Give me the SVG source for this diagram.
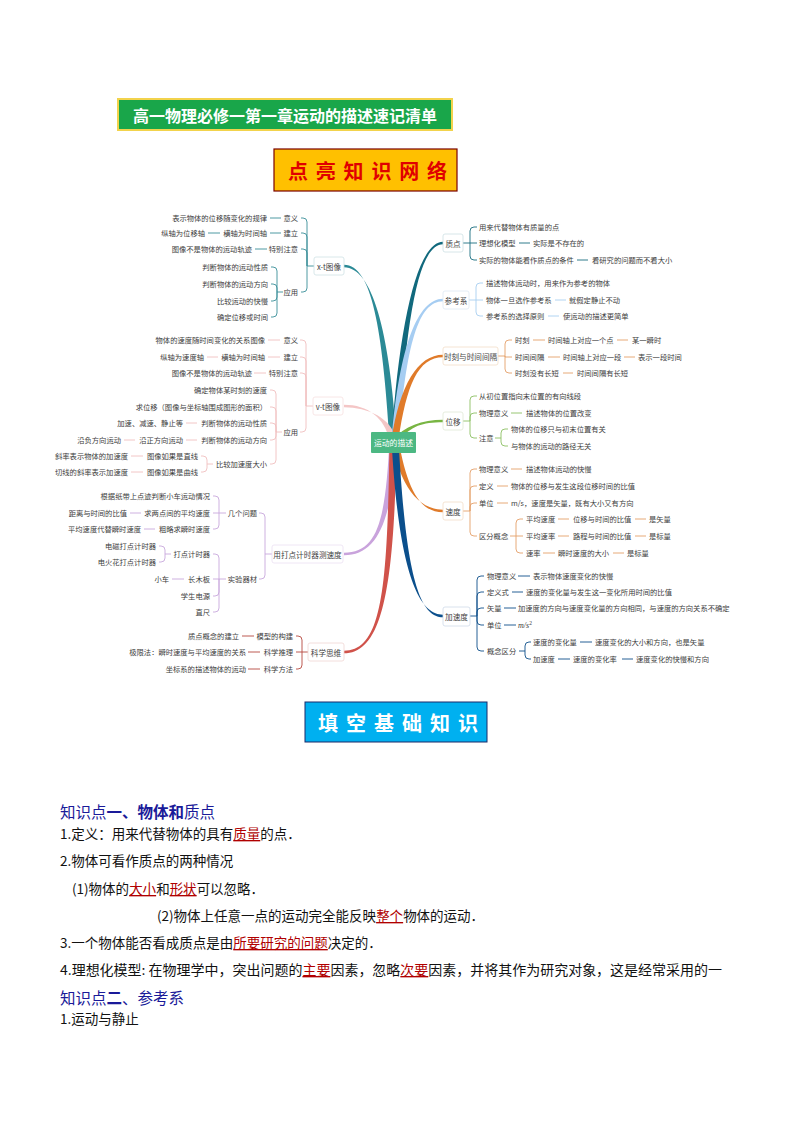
<svg xmlns="http://www.w3.org/2000/svg" width="794" height="1123" viewBox="0 0 794 1123">
<style>
.t{font-family:"Noto Sans CJK SC","Noto Sans",sans-serif;font-size:7.3px;fill:#3c3c3c;dominant-baseline:central}
.e{text-anchor:end}
.lb{font-family:"Noto Sans CJK SC","Noto Sans",sans-serif;font-size:7.6px;fill:#444;text-anchor:middle;dominant-baseline:central}
.bx{fill:#fff;stroke-width:0.8}
.c{fill:none;stroke-width:0.9}
.p{font-family:"Noto Sans CJK SC","Noto Sans",sans-serif;font-size:13.5px;fill:#111}
.h{font-family:"Noto Sans CJK SC","Noto Sans",sans-serif;font-size:15.5px;fill:#1a1a99}
.r{fill:#b00000;text-decoration:underline}
</style>
<rect width="794" height="1123" fill="#fff"/>

<g id="title">
<rect x="118" y="99" width="334" height="31" fill="#19a64a" stroke="#f2d34c" stroke-width="2"/>
<text x="285" y="115" font-family="'Noto Sans CJK SC',sans-serif" font-size="16" font-weight="bold" fill="#fff" text-anchor="middle" dominant-baseline="central">高一物理必修一第一章运动的描述速记清单</text>
</g>
<g id="header1">
<rect x="274" y="149" width="183" height="42" fill="#ffc000" stroke="#7a0000" stroke-width="1.2"/>
<text x="288" y="170" font-family="'Noto Sans CJK SC',sans-serif" font-size="20" font-weight="bold" fill="#e00000" letter-spacing="7.8" dominant-baseline="central">点亮知识网络</text>
</g>

<g id="connectors">
<g id="main-branches">
<path fill="#2b8a96" d="M389.5,440 C382.5,330 372,264.7 344,264.7 L344,267.3 C372,267.3 389.5,330 396.5,440 Z"/>
<path fill="#f4c6c6" d="M389.5,440 C384.5,418 368,404.7 344,404.7 L344,407.3 C368,407.3 391.5,418 396.5,440 Z"/>
<path fill="#c9a3dc" d="M389.5,440 C385.5,520 378,552.7 344,552.7 L344,555.3 C378,555.3 392.5,520 396.5,440 Z"/>
<path fill="#d0524a" d="M389.5,440 C387.5,590 382,650.7 344,650.7 L344,653.3 C382,653.3 394.5,590 396.5,440 Z"/>
<path fill="#11697d" d="M391.5,440 C399.5,320 418,241.7 443,241.7 L443,244.3 C418,244.3 406.5,320 398.5,440 Z"/>
<path fill="#a6cdf2" d="M391.5,440 C399.5,345 418,298.7 443,298.7 L443,301.3 C418,301.3 406.5,345 398.5,440 Z"/>
<path fill="#e07b2a" d="M391.5,440 C399.5,385 418,354.7 443,354.7 L443,357.3 C418,357.3 406.5,385 398.5,440 Z"/>
<path fill="#78b543" d="M392.5,440 C404.5,426 422,419.7 443,419.7 L443,422.3 C422,422.3 411.5,426 399.5,440 Z"/>
<path fill="#e07b2a" d="M391.5,440 C399.5,485 418,509.7 443,509.7 L443,512.3 C418,512.3 406.5,485 398.5,440 Z"/>
<path fill="#0b4f8c" d="M391.5,440 C398.5,570 418,614.7 443,614.7 L443,617.3 C418,617.3 405.5,570 398.5,440 Z"/>
</g>
<g id="xt-lines" class="c" stroke="#3a8f98">
<path d="M314,266 H307 M307,266 V222 Q307,218 303,218 H301 M307,266 V237 Q307,233 303,233 H301 M307,266 V253 Q307,249 303,249 H301 M307,266 V288 Q307,292 303,292 H301"/>
<path d="M283,292 H277 M277,292 V271 Q277,267 273,267 H271 M277,292 V288 Q277,284 273,284 H271 M277,292 V297 Q277,301 273,301 H271 M277,292 V313 Q277,317 273,317 H271"/>
<path d="M270,218 H281 M270,233 H281 M208,233 H220 M255,249 H267"/>
</g>
<g id="vt-lines" class="c" stroke="#f0c0c0">
<path d="M313,406 H306 M306,406 V344 Q306,340 302,340 H300 M306,406 V361 Q306,357 302,357 H300 M306,406 V377 Q306,373 302,373 H300 M306,406 V428 Q306,432 302,432 H300"/>
<path d="M282,432 H276 M276,432 V394 Q276,390 272,390 H270 M276,432 V411 Q276,407 272,407 H270 M276,432 V427 Q276,423 272,423 H270 M276,432 V436 Q276,440 272,440 H270 M276,432 V460 Q276,464 272,464 H270"/>
<path d="M213,464 H207 M207,464 V460 Q207,456 203,456 H201 M207,464 V468 Q207,472 203,472 H201"/>
<path d="M268,340 H280 M268,357 H280 M207,357 H218 M254,373 H266 M186,423 H197 M186,440 H197 M124,440 H135 M131,456 H143 M131,472 H143"/>
</g>
<g id="dd-lines" class="c" stroke="#c8a8dc">
<path d="M272,554 H265 M265,554 V517 Q265,513 261,513 H259 M265,554 V575 Q265,579 261,579 H259"/>
<path d="M226,513 H219 M219,513 V500 Q219,496 215,496 H213 M219,513 H213 M219,513 V525 Q219,529 215,529 H213"/>
<path d="M226,579 H219 M219,579 V558 Q219,554 215,554 H213 M219,579 H213 M219,579 V592 Q219,596 215,596 H213 M219,579 V608 Q219,612 215,612 H213"/>
<path d="M171,554 H165 M165,554 V550 Q165,546 161,546 H159 M165,554 V558 Q165,562 161,562 H159"/>
<path d="M130,513 H141 M144,529 H155 M172,579 H184"/>
</g>
<g id="kx-lines" class="c" stroke="#b5483f">
<path d="M308,652 H302 M302,652 V640 Q302,636 298,636 H296 M302,652 H296 M302,652 V665 Q302,669 298,669 H296"/>
<path d="M242,636 H254 M248,652 H260 M248,669 H260"/>
</g>
<g id="zd-lines" class="c" stroke="#1a6e80">
<path d="M463,243 H470 M470,243 V231 Q470,227 474,227 H477 M470,243 H477 M470,243 V256 Q470,260 474,260 H477"/>
<path d="M519,243 H530 M577,260 H588"/>
</g>
<g id="ckx-lines" class="c" stroke="#a8cff0">
<path d="M469,300 H476 M476,300 V287 Q476,283 480,283 H483 M476,300 H483 M476,300 V312 Q476,316 480,316 H483"/>
<path d="M555,300 H566 M548,316 H559"/>
</g>
<g id="sk-lines" class="c" stroke="#e4a06a">
<path d="M498,356 H505 M505,356 V344 Q505,340 509,340 H512 M505,356 V357 H512 M505,356 V369 Q505,373 509,373 H512"/>
<path d="M533,340 H545 M617,340 H628 M548,357 H560 M624,357 H635 M563,373 H573"/>
</g>
<g id="wy-lines" class="c" stroke="#8cc063">
<path d="M463,421 H470 M470,421 V400 Q470,396 474,396 H477 M470,421 V417 Q470,413 474,413 H477 M470,421 V434 Q470,438 474,438 H477"/>
<path d="M495,438 H501 M501,438 V433 Q501,429 505,429 H508 M501,438 V442 Q501,446 505,446 H508"/>
<path d="M511,413 H522"/>
</g>
<g id="sd-lines" class="c" stroke="#e4a06a">
<path d="M463,511 H470 M470,511 V473 Q470,469 474,469 H477 M470,511 V490 Q470,486 474,486 H477 M470,511 V507 Q470,503 474,503 H477 M470,511 V532 Q470,536 474,536 H477"/>
<path d="M510,536 H516 M516,536 V523 Q516,519 520,519 H523 M516,536 H523 M516,536 V549 Q516,553 520,553 H523"/>
<path d="M511,469 H522 M497,486 H508 M497,503 H508 M558,519 H569 M635,519 H646 M558,536 H569 M635,536 H646 M543,553 H555 M613,553 H624"/>
</g>
<g id="jsd-lines" class="c" stroke="#0e4f8a">
<path d="M470,616 H477 M477,616 V580 Q477,576 481,576 H484 M477,616 V596 Q477,592 481,592 H484 M477,616 V612 Q477,608 481,608 H484 M477,616 V621 Q477,625 481,625 H484 M477,616 V647 Q477,651 481,651 H484"/>
<path d="M519,651 H525 M525,651 V646 Q525,642 529,642 H531 M525,651 V655 Q525,659 529,659 H531"/>
<path d="M518,576 H530 M512,592 H523 M504,608 H516 M504,625 H516 M580,642 H592 M558,659 H570 M622,659 H633"/>
</g>
</g>

<g id="center">
<rect x="371" y="432" width="45" height="21" rx="1" fill="#4cb883"/>
<text x="393.5" y="442.5" class="lb" style="fill:#fff;font-size:7.8px">运动的描述</text>
</g>

<g id="node-xt">
<rect class="bx" x="314" y="257" width="30" height="18" rx="2" stroke="#cfe2e4"/>
<text class="lb" x="329" y="266">x-t图像</text>
<text class="t e" x="298" y="218">意义</text>
<text class="t e" x="267" y="218">表示物体的位移随变化的规律</text>
<text class="t e" x="298" y="233">建立</text>
<text class="t e" x="267" y="233">横轴为时间轴</text>
<text class="t e" x="205" y="233">纵轴为位移轴</text>
<text class="t e" x="298" y="249">特别注意</text>
<text class="t e" x="252" y="249">图像不是物体的运动轨迹</text>
<text class="t e" x="298" y="292">应用</text>
<text class="t e" x="268" y="267">判断物体的运动性质</text>
<text class="t e" x="268" y="284">判断物体的运动方向</text>
<text class="t e" x="268" y="301">比较运动的快慢</text>
<text class="t e" x="268" y="317">确定位移或时间</text>
</g>

<g id="node-vt">
<rect class="bx" x="313" y="397" width="30" height="18" rx="2" stroke="#f6e0e0"/>
<text class="lb" x="328" y="406">v-t图像</text>
<text class="t e" x="298" y="340">意义</text>
<text class="t e" x="265" y="340">物体的速度随时间变化的关系图像</text>
<text class="t e" x="298" y="357">建立</text>
<text class="t e" x="265" y="357">横轴为时间轴</text>
<text class="t e" x="204" y="357">纵轴为速度轴</text>
<text class="t e" x="298" y="373">特别注意</text>
<text class="t e" x="252" y="373">图像不是物体的运动轨迹</text>
<text class="t e" x="298" y="432">应用</text>
<text class="t e" x="267" y="390">确定物体某时刻的速度</text>
<text class="t e" x="267" y="407">求位移（图像与坐标轴围成图形的面积）</text>
<text class="t e" x="267" y="423">判断物体的运动性质</text>
<text class="t e" x="183" y="423">加速、减速、静止等</text>
<text class="t e" x="267" y="440">判断物体的运动方向</text>
<text class="t e" x="183" y="440">沿正方向运动</text>
<text class="t e" x="121" y="440">沿负方向运动</text>
<text class="t e" x="267" y="464">比较加速度大小</text>
<text class="t e" x="198" y="456">图像如果是直线</text>
<text class="t e" x="128" y="456">斜率表示物体的加速度</text>
<text class="t e" x="198" y="472">图像如果是曲线</text>
<text class="t e" x="128" y="472">切线的斜率表示加速度</text>
</g>

<g id="node-dd">
<rect class="bx" x="272" y="545" width="71" height="18" rx="2" stroke="#ebe0f2"/>
<text class="lb" x="307.5" y="554">用打点计时器测速度</text>
<text class="t e" x="257" y="513">几个问题</text>
<text class="t e" x="210" y="496">根据纸带上点迹判断小车运动情况</text>
<text class="t e" x="210" y="513">求两点间的平均速度</text>
<text class="t e" x="127" y="513">距离与时间的比值</text>
<text class="t e" x="210" y="529">粗略求瞬时速度</text>
<text class="t e" x="141" y="529">平均速度代替瞬时速度</text>
<text class="t e" x="257" y="579">实验器材</text>
<text class="t e" x="210" y="554">打点计时器</text>
<text class="t e" x="156" y="546">电磁打点计时器</text>
<text class="t e" x="156" y="562">电火花打点计时器</text>
<text class="t e" x="210" y="579">长木板</text>
<text class="t e" x="169" y="579">小车</text>
<text class="t e" x="210" y="596">学生电源</text>
<text class="t e" x="210" y="612">直尺</text>
</g>

<g id="node-kx">
<rect class="bx" x="308" y="643" width="36" height="18" rx="2" stroke="#f0d6d3"/>
<text class="lb" x="326" y="652">科学思维</text>
<text class="t e" x="293" y="636">模型的构建</text>
<text class="t e" x="239" y="636">质点概念的建立</text>
<text class="t e" x="293" y="652">科学推理</text>
<text class="t e" x="246" y="652">极限法：瞬时速度与平均速度的关系</text>
<text class="t e" x="293" y="669">科学方法</text>
<text class="t e" x="246" y="669">坐标系的描述物体的运动</text>
</g>

<g id="node-zd">
<rect class="bx" x="443" y="234" width="20" height="18" rx="2" stroke="#cddfe3"/>
<text class="lb" x="453" y="243">质点</text>
<text class="t" x="479" y="227">用来代替物体有质量的点</text>
<text class="t" x="479" y="243">理想化模型</text>
<text class="t" x="533" y="243">实际是不存在的</text>
<text class="t" x="479" y="260">实际的物体能看作质点的条件</text>
<text class="t" x="592" y="260">看研究的问题而不看大小</text>
</g>

<g id="node-ckx">
<rect class="bx" x="443" y="291" width="26" height="18" rx="2" stroke="#dde9f4"/>
<text class="lb" x="456" y="300">参考系</text>
<text class="t" x="486" y="283">描述物体运动时，用来作为参考的物体</text>
<text class="t" x="486" y="300">物体一旦选作参考系</text>
<text class="t" x="569" y="300">就假定静止不动</text>
<text class="t" x="486" y="316">参考系的选择原则</text>
<text class="t" x="563" y="316">使运动的描述更简单</text>
</g>

<g id="node-sk">
<rect class="bx" x="443" y="347" width="55" height="18" rx="2" stroke="#f3ddc8"/>
<text class="lb" x="470.5" y="356">时刻与时间间隔</text>
<text class="t" x="515" y="340">时刻</text>
<text class="t" x="548" y="340">时间轴上对应一个点</text>
<text class="t" x="632" y="340">某一瞬时</text>
<text class="t" x="515" y="357">时间间隔</text>
<text class="t" x="563" y="357">时间轴上对应一段</text>
<text class="t" x="638" y="357">表示一段时间</text>
<text class="t" x="515" y="373">时刻没有长短</text>
<text class="t" x="577" y="373">时间间隔有长短</text>
</g>

<g id="node-wy">
<rect class="bx" x="443" y="412" width="20" height="18" rx="2" stroke="#dfe9d6"/>
<text class="lb" x="453" y="421">位移</text>
<text class="t" x="479" y="396">从初位置指向末位置的有向线段</text>
<text class="t" x="479" y="413">物理意义</text>
<text class="t" x="526" y="413">描述物体的位置改变</text>
<text class="t" x="479" y="438">注意</text>
<text class="t" x="511" y="429">物体的位移只与初末位置有关</text>
<text class="t" x="511" y="446">与物体的运动的路径无关</text>
</g>

<g id="node-sd">
<rect class="bx" x="443" y="502" width="20" height="18" rx="2" stroke="#f3ddc8"/>
<text class="lb" x="453" y="511">速度</text>
<text class="t" x="479" y="469">物理意义</text>
<text class="t" x="526" y="469">描述物体运动的快慢</text>
<text class="t" x="479" y="486">定义</text>
<text class="t" x="511" y="486">物体的位移与发生这段位移时间的比值</text>
<text class="t" x="479" y="503">单位</text>
<text class="t" x="511" y="503">m/s，速度是矢量，既有大小又有方向</text>
<text class="t" x="479" y="536">区分概念</text>
<text class="t" x="526" y="519">平均速度</text>
<text class="t" x="573" y="519">位移与时间的比值</text>
<text class="t" x="649" y="519">是矢量</text>
<text class="t" x="526" y="536">平均速率</text>
<text class="t" x="573" y="536">路程与时间的比值</text>
<text class="t" x="649" y="536">是标量</text>
<text class="t" x="526" y="553">速率</text>
<text class="t" x="558" y="553">瞬时速度的大小</text>
<text class="t" x="627" y="553">是标量</text>
</g>

<g id="node-jsd">
<rect class="bx" x="443" y="607" width="27" height="19" rx="2" stroke="#cfdbe8"/>
<text class="lb" x="456.5" y="616.5">加速度</text>
<text class="t" x="487" y="576">物理意义</text>
<text class="t" x="533" y="576">表示物体速度变化的快慢</text>
<text class="t" x="487" y="592">定义式</text>
<text class="t" x="526" y="592">速度的变化量与发生这一变化所用时间的比值</text>
<text class="t" x="487" y="608">矢量</text>
<text class="t" x="518" y="608">加速度的方向与速度变化量的方向相同，与速度的方向关系不确定</text>
<text class="t" x="487" y="625">单位</text>
<text x="518" y="627.5" font-family="'Liberation Serif',serif" font-style="italic" font-size="8" fill="#3c3c3c">m/s<tspan dy="-3" font-size="5.5" font-style="normal">2</tspan></text>
<text class="t" x="487" y="651">概念区分</text>
<text class="t" x="533" y="642">速度的变化量</text>
<text class="t" x="595" y="642">速度变化的大小和方向，也是矢量</text>
<text class="t" x="533" y="659">加速度</text>
<text class="t" x="573" y="659">速度的变化率</text>
<text class="t" x="636" y="659">速度变化的快慢和方向</text>
</g>

<g id="header2">
<rect x="305" y="702" width="182" height="40" fill="#00b0f0" stroke="#1b2a6b" stroke-width="1"/>
<text x="318" y="722" font-family="'Noto Sans CJK SC',sans-serif" font-size="20" font-weight="bold" fill="#fff" letter-spacing="8" dominant-baseline="central">填空基础知识</text>
</g>

<g id="text-body">
<text class="h" x="60" y="818">知识点<tspan font-weight="bold">一、物体和</tspan>质点</text>
<text class="p" x="60" y="839">1.定义：用来代替物体的具有<tspan class="r">质量</tspan>的点．</text>
<text class="p" x="60" y="866">2.物体可看作质点的两种情况</text>
<text class="p" x="72" y="894">(1)物体的<tspan class="r">大小</tspan>和<tspan class="r">形状</tspan>可以忽略．</text>
<text class="p" x="157" y="921">(2)物体上任意一点的运动完全能反映<tspan class="r">整个</tspan>物体的运动．</text>
<text class="p" x="60" y="948">3.一个物体能否看成质点是由<tspan class="r">所要研究的问题</tspan>决定的．</text>
<text class="p" x="60" y="975" textLength="662" lengthAdjust="spacingAndGlyphs">4.理想化模型: 在物理学中，突出问题的<tspan class="r">主要</tspan>因素，忽略<tspan class="r">次要</tspan>因素，并将其作为研究对象，这是经常采用的一</text>
<text class="h" x="60" y="1004">知识点<tspan font-weight="bold">二</tspan>、参考系</text>
<text class="p" x="60" y="1024">1.运动与静止</text>
</g>
</svg>
